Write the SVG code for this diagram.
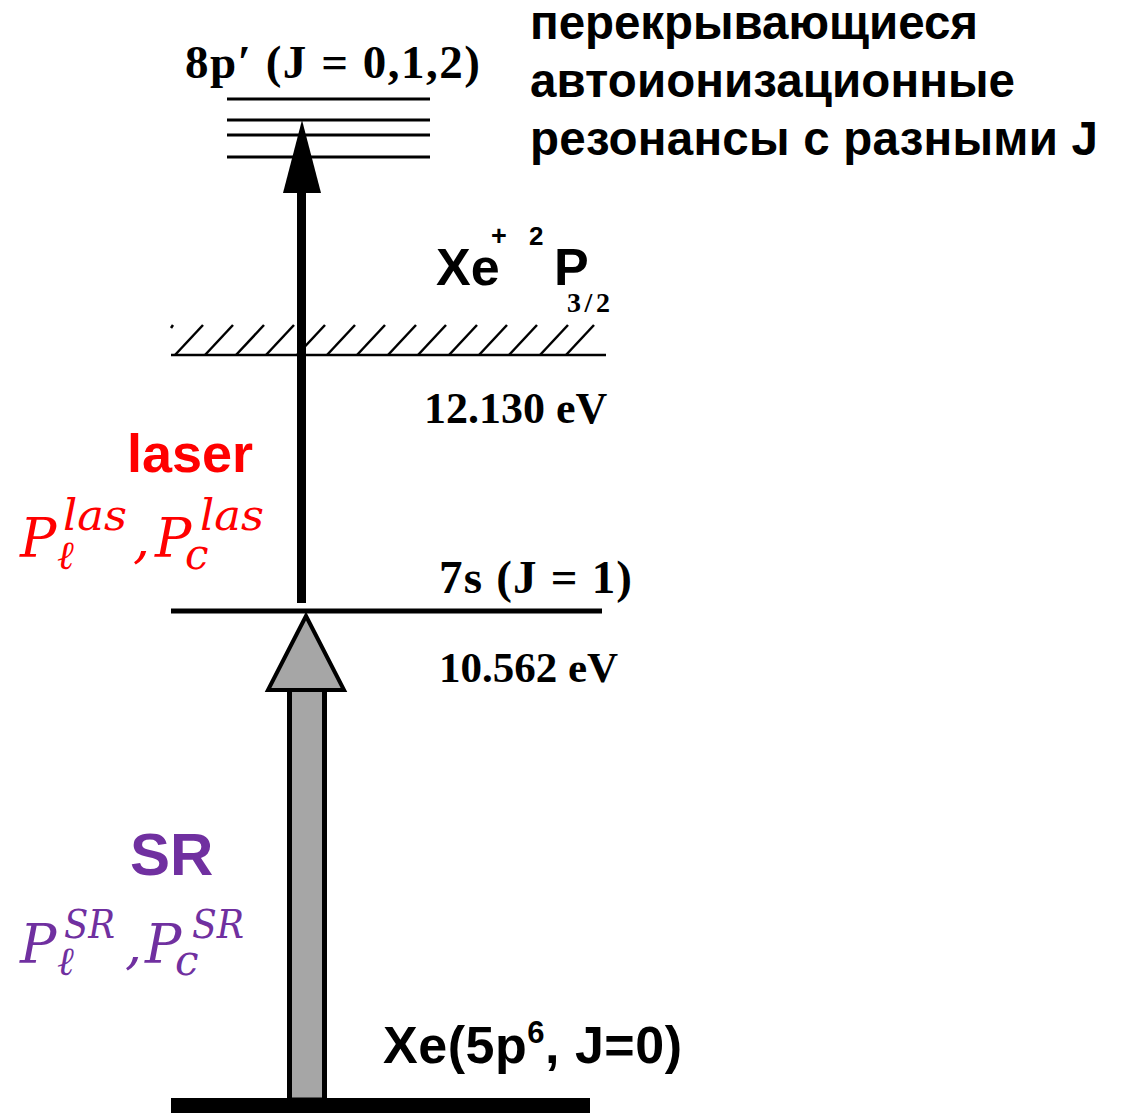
<svg xmlns="http://www.w3.org/2000/svg" width="1127" height="1113" viewBox="0 0 1127 1113">
<style>
.lvl{stroke:#000;fill:none}
.times{font-family:"Liberation Serif","Times New Roman",serif;font-weight:bold;fill:#000}
.arial{font-family:"Liberation Sans",Arial,sans-serif;font-weight:bold;fill:#000}
.math{font-family:"DejaVu Serif","Liberation Serif",serif;font-style:italic}
.red{fill:#ff0000}
.purple{fill:#7030a0}
</style>
<rect width="1127" height="1113" fill="#fff"/>

<g id="level-8p">
  <line class="lvl" x1="227" y1="99" x2="430" y2="99" stroke-width="3"/>
  <line class="lvl" x1="227" y1="120" x2="430" y2="120" stroke-width="3"/>
  <line class="lvl" x1="227" y1="135" x2="430" y2="135" stroke-width="3"/>
  <line class="lvl" x1="227" y1="157" x2="430" y2="157" stroke-width="3"/>
  <text class="times" x="185" y="78" font-size="47" textLength="295">8p′ (J = 0,1,2)</text>
</g>

<g id="note">
  <text class="arial" font-size="47.5" x="530" y="39" textLength="448">перекрывающиеся</text>
  <text class="arial" font-size="47.5" x="530" y="97" textLength="485">автоионизационные</text>
  <text class="arial" font-size="47.5" x="530" y="155" textLength="568">резонансы с разными J</text>
</g>

<g id="level-ion">
  <line class="lvl" x1="171" y1="355" x2="606" y2="355" stroke-width="2.5"/>
  <g stroke="#000" stroke-width="2.5">
    <line x1="171" y1="328" x2="173" y2="325"/>
    <line x1="175" y1="355" x2="203" y2="325"/>
    <line x1="205" y1="355" x2="233" y2="325"/>
    <line x1="236" y1="355" x2="264" y2="325"/>
    <line x1="266" y1="355" x2="294" y2="325"/>
    <line x1="297" y1="355" x2="325" y2="325"/>
    <line x1="327" y1="355" x2="355" y2="325"/>
    <line x1="357" y1="355" x2="385" y2="325"/>
    <line x1="388" y1="355" x2="416" y2="325"/>
    <line x1="418" y1="355" x2="446" y2="325"/>
    <line x1="449" y1="355" x2="477" y2="325"/>
    <line x1="479" y1="355" x2="507" y2="325"/>
    <line x1="509" y1="355" x2="537" y2="325"/>
    <line x1="540" y1="355" x2="568" y2="325"/>
    <line x1="566" y1="355" x2="594" y2="325"/>
  </g>
  <text class="arial" x="436" y="285" font-size="52">Xe</text>
  <text class="arial" x="491" y="245" font-size="27">+</text>
  <text class="arial" x="529" y="245" font-size="26">2</text>
  <text class="arial" x="554" y="285" font-size="52">P</text>
  <text class="times" x="567" y="312" font-size="28" textLength="43">3/2</text>
  <text class="times" x="424" y="423" font-size="44">12.130 eV</text>
</g>

<g id="level-7s">
  <line class="lvl" x1="171" y1="611" x2="602" y2="611" stroke-width="5"/>
  <text class="times" x="439" y="593" font-size="47" textLength="193">7s (J = 1)</text>
  <text class="times" x="439" y="682" font-size="43">10.562 eV</text>
</g>

<g id="level-ground">
  <rect x="171" y="1098" width="419" height="15" fill="#000"/>
  <text class="arial" x="383" y="1063" font-size="52" textLength="299">Xe(5p<tspan font-size="31" dy="-20">6</tspan><tspan dy="20">, J=0)</tspan></text>
</g>

<g id="connectors">
  <g id="laser-arrow">
    <rect x="297" y="188" width="9" height="415" fill="#000"/>
    <polygon points="302,120 283,193 321,193" fill="#000"/>
  </g>
  <g id="sr-arrow">
    <rect x="289.5" y="688" width="35" height="412" fill="#a6a6a6" stroke="#000" stroke-width="5"/>
    <polygon points="306,616 268,690 344,690" fill="#a6a6a6" stroke="#000" stroke-width="4" stroke-linejoin="miter"/>
  </g>
</g>

<g id="label-laser">
  <text class="arial red" x="127" y="472" font-size="54">laser</text>
  <text class="math red" font-size="54" x="20" y="557">P</text>
  <text class="math red" font-size="42" x="63" y="530" textLength="64" lengthAdjust="spacingAndGlyphs">las</text>
  <text class="math red" font-size="40" x="57" y="569">ℓ</text>
  <text class="math red" font-size="54" x="133" y="557">,</text>
  <text class="math red" font-size="54" x="155" y="557">P</text>
  <text class="math red" font-size="42" x="200" y="530" textLength="64" lengthAdjust="spacingAndGlyphs">las</text>
  <text class="math red" font-size="42" x="185" y="569">c</text>
</g>

<g id="label-sr">
  <text class="arial purple" x="130" y="875" font-size="60">SR</text>
  <text class="math purple" font-size="54" x="20" y="963">P</text>
  <text class="math purple" font-size="40" x="64" y="938" textLength="51" lengthAdjust="spacingAndGlyphs">SR</text>
  <text class="math purple" font-size="40" x="57" y="975">ℓ</text>
  <text class="math purple" font-size="54" x="125" y="963">,</text>
  <text class="math purple" font-size="54" x="145" y="963">P</text>
  <text class="math purple" font-size="40" x="192" y="938" textLength="52" lengthAdjust="spacingAndGlyphs">SR</text>
  <text class="math purple" font-size="42" x="175" y="975">c</text>
</g>
</svg>
